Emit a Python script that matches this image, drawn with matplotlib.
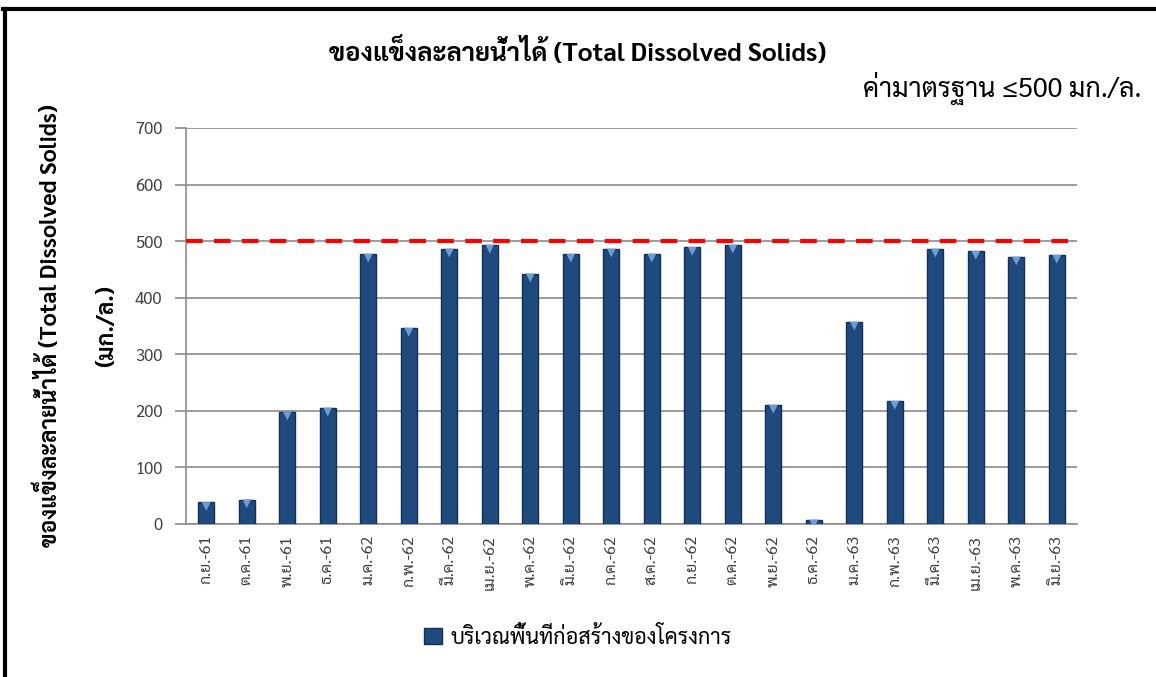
import matplotlib
matplotlib.use('Agg')
import matplotlib.pyplot as plt
import matplotlib.transforms as mtransforms
from matplotlib.patches import Rectangle
from matplotlib.lines import Line2D

# monthly TDS values (mg/L)
months = ['ก.ย.-61', 'ต.ค.-61', 'พ.ย.-61', 'ธ.ค.-61', 'ม.ค.-62', 'ก.พ.-62',
          'มี.ค.-62', 'เม.ย.-62', 'พ.ค.-62', 'มิ.ย.-62', 'ก.ค.-62', 'ส.ค.-62',
          'ก.ย.-62', 'ต.ค.-62', 'พ.ย.-62', 'ธ.ค.-62', 'ม.ค.-63', 'ก.พ.-63',
          'มี.ค.-63', 'เม.ย.-63', 'พ.ค.-63', 'มิ.ย.-63']
tds = [38, 43, 198, 205, 477, 346, 486, 493, 442, 477, 486, 477,
       489, 493, 210, 7, 357, 217, 486, 482, 472, 475]
standard = 500
series_name = 'บริเวณพื้นที่ก่อสร้างของโครงการ'

plt.rcParams['font.family'] = ['Sarabun', 'DejaVu Sans']

fig = plt.figure(figsize=(11.56, 6.77), dpi=100)
ax = fig.add_axes([0.1609, 0.226, 0.7708, 0.585])

x = list(range(len(months)))
ax.bar(x, tds, width=0.40, color='#1F4A7E', edgecolor='#132f52', linewidth=1.0, zorder=3)
# light bevel triangle at the top of every bar
down = mtransforms.offset_copy(ax.transData, fig=fig, x=0, y=-4, units='dots')
ax.scatter(x, tds, marker='v', s=40, color='#6f9bd3', edgecolors='none', transform=down, zorder=4)
ax.axhline(standard, color='#ff0000', linewidth=3, dashes=(4, 2.7), zorder=5)

ax.set_ylim(0, 700)
ax.set_xlim(-0.5, len(months) - 0.5)
ax.set_yticks(range(0, 701, 100))
ax.yaxis.grid(True, color='#8c8c8c', linewidth=1.2, zorder=0)
ax.set_xticks(x)
ax.set_xticklabels(months, rotation=90, fontsize=11.5, color='#404040')
ax.tick_params(axis='x', length=0, pad=8)
ax.tick_params(axis='y', length=8, width=1.2, color='#8c8c8c', labelsize=12, labelcolor='#404040', pad=9)
for s in ['top', 'right']:
    ax.spines[s].set_visible(False)
for s in ['left', 'bottom']:
    ax.spines[s].set_color('#8c8c8c')
    ax.spines[s].set_linewidth(1.2)

ax.set_ylabel('ของแข็งละลายน้ำได้ (Total Dissolved Solids)\n(มก./ล.)',
              fontsize=16.5, fontweight='bold', linespacing=3.0, labelpad=12)

fig.text(0.50, 0.922, 'ของแข็งละลายน้ำได้ (Total Dissolved Solids)',
         ha='center', va='center', fontsize=18.5, fontweight='bold')
fig.text(0.987, 0.869, 'ค่ามาตรฐาน ≤500 มก./ล.', ha='right', va='center', fontsize=19.3)

handle = Rectangle((0, 0), 1, 1, facecolor='#1F4A7E', edgecolor='#132f52')
fig.legend([handle], [series_name], loc='center', bbox_to_anchor=(0.50, 0.058),
           frameon=False, fontsize=15.5, handlelength=0.8, handleheight=0.8, handletextpad=0.4)

# black frame on the top and left of the figure
fig.lines.append(Line2D([0.003, 1.0], [0.986, 0.986], transform=fig.transFigure,
                        color='black', linewidth=3))
fig.lines.append(Line2D([0.0043, 0.0043], [0.0, 0.986], transform=fig.transFigure,
                        color='black', linewidth=3))

fig.savefig('out.png', dpi=100)
